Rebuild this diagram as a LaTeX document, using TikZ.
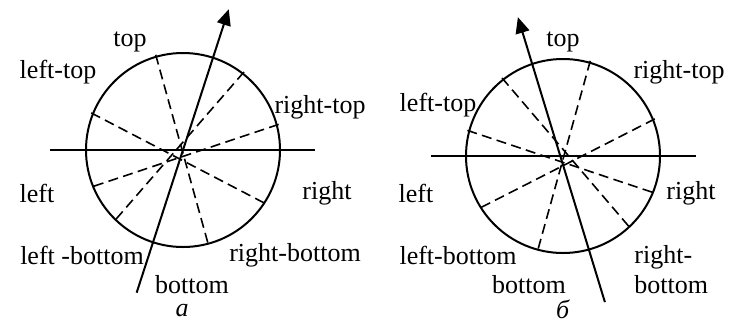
\documentclass[tikz,border=0pt]{standalone}
\usepackage{fontspec}
\setmainfont{Liberation Serif}
\usetikzlibrary{arrows.meta}

\tikzset{
  lbl/.style={inner sep=0pt, font=\fontsize{13}{15}\selectfont},
  axis/.style={line width=1pt},
  dir/.style={line width=1pt, -{Triangle[length=8pt,width=7pt]}},
  sector/.style={line width=0.8pt, dash pattern=on 5pt off 2.7pt},
}

\begin{document}
\begin{tikzpicture}[x=0.5pt,y=0.5pt]
\useasboundingbox (0,0) rectangle (731,323);

% case a
\begin{scope}
\coordinate (ca) at (183,173);
\draw[axis] (ca) circle[radius=48.5pt];
\draw[axis] (50,173) -- (315,173);
\foreach \a/\b in {106/285, 52/226, 15/202, 158/327}
  \draw[sector] ([shift={(\a:99)}]ca) -- ([shift={(\b:99)}]ca);
\draw[dir] ([shift={(252:150)}]ca) -- ([shift={(72:148)}]ca);

\node[lbl] (atop) at (130,281) {top};
\node[lbl] (alefttop) at (58,251) {left-top};
\node[lbl] (arighttop) at (320,216) {right-top};
\node[lbl] (aleft) at (37,130) {left};
\node[lbl] (aright) at (327,130) {right};
\node[lbl] (aleftbot) at (82,68) {left -bottom};
\node[lbl] (arightbot) at (295,68) {right-bottom};
\node[lbl] (abot) at (192,38) {bottom};
\node[lbl] (acap) at (182,12) {\textit{а}};
\end{scope}

% case b
\begin{scope}
\coordinate (cb) at (563,167);
\draw[axis] (cb) circle[radius=48.5pt];
\draw[axis] (431,167) -- (696,167);
\foreach \a/\b in {74/255, 128/313, 22/212, 165/338}
  \draw[sector] ([shift={(\a:99)}]cb) -- ([shift={(\b:99)}]cb);
\draw[dir] ([shift={(286:152)}]cb) -- ([shift={(108:146)}]cb);

\node[lbl] (btop) at (563,281) {top};
\node[lbl] (brighttop) at (679,251) {right-top};
\node[lbl] (blefttop) at (438,218) {left-top};
\node[lbl] (bleft) at (416,130) {left};
\node[lbl] (bright) at (691,130) {right};
\node[lbl] (bleftbot) at (458,68) {left-bottom};
\node[lbl, anchor=west, align=left] (brightbot) at (634,53) {right-\\bottom};
\node[lbl] (bbot) at (529,38) {bottom};
\node[lbl] (bcap) at (563,14) {\textit{б}};
\end{scope}
\end{tikzpicture}
\end{document}
